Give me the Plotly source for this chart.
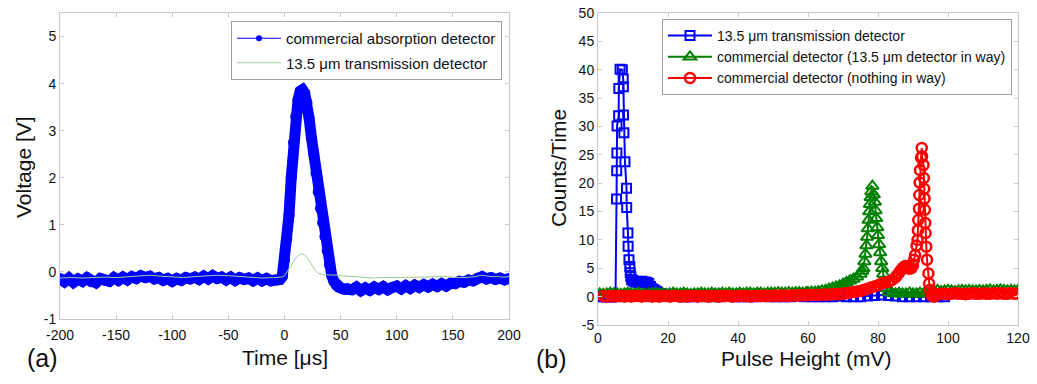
import plotly.graph_objects as go

W, H = 1037, 384
FONT = "Arial, Liberation Sans, sans-serif"

# ---------------- Panel (a): voltage traces ----------------
# blue trace, segment 1: t = -200 .. -8 (step 4 us)
blue_v1 = [-0.14, -0.21, -0.13, -0.22, -0.15, -0.20, -0.12, -0.21, -0.23, -0.14,
           -0.18, -0.20, -0.12, -0.18, -0.11, -0.17, -0.10, -0.14, -0.08, -0.12,
           -0.09, -0.15, -0.12, -0.18, -0.14, -0.20, -0.14, -0.18, -0.12, -0.15,
           -0.11, -0.16, -0.09, -0.15, -0.08, -0.14, -0.11, -0.17, -0.11, -0.18,
           -0.12, -0.16, -0.13, -0.19, -0.13, -0.19, -0.14, -0.19, -0.17]
# segment 2: t = -6 .. 56 (step 2 us), the pulse
blue_v2 = [-0.17, -0.16, -0.10, 0.25, 0.70, 1.20, 2.00, 2.75, 3.30, 3.65,
           3.84, 3.87, 3.80, 3.60, 3.25, 2.85, 2.50, 2.10, 1.70, 1.35,
           1.05, 0.75, 0.45, 0.15, -0.07, -0.20, -0.28, -0.32, -0.34, -0.36,
           -0.37, -0.35]
# segment 3: t = 60 .. 200 (step 4 us)
blue_v3 = [-0.38, -0.32, -0.40, -0.34, -0.39, -0.32, -0.37, -0.31, -0.38, -0.33,
           -0.30, -0.36, -0.29, -0.35, -0.28, -0.33, -0.27, -0.32, -0.26, -0.31,
           -0.25, -0.30, -0.24, -0.25, -0.20, -0.22, -0.17, -0.19, -0.13, -0.10,
           -0.15, -0.12, -0.16, -0.13, -0.17, -0.14]
blue_t = ([-200 + 4 * i for i in range(len(blue_v1))]
          + [-6 + 2 * i for i in range(len(blue_v2))]
          + [60 + 4 * i for i in range(len(blue_v3))])
blue_v = blue_v1 + blue_v2 + blue_v3

# green trace (13.5 um detector)
green_v1 = [-0.13, -0.12, -0.13, -0.12, -0.11, -0.12, -0.10, -0.08, -0.07, -0.09,
            -0.11, -0.12, -0.10, -0.08, -0.07, -0.08, -0.10, -0.12, -0.13, -0.12]
green_v2 = [-0.12, -0.11, -0.08, 0.00, 0.10, 0.20, 0.29, 0.35, 0.38, 0.37,
            0.31, 0.22, 0.12, 0.03, -0.03, -0.05, -0.06, -0.06, -0.06, -0.06,
            -0.07, -0.07, -0.08]
green_v3 = [-0.09, -0.10, -0.11, -0.12, -0.13, -0.13, -0.12, -0.12, -0.11, -0.11,
            -0.11, -0.12, -0.12, -0.11, -0.11, -0.10, -0.10, -0.09, -0.10, -0.11,
            -0.12, -0.12, -0.11, -0.10, -0.07, -0.09, -0.10, -0.10, -0.11, -0.10]
green_t = ([-200 + 10 * i for i in range(len(green_v1))]
           + [-5 + 2.5 * i for i in range(len(green_v2))]
           + [55 + 5 * i for i in range(len(green_v3))])
green_v = green_v1 + green_v2 + green_v3

# tick labels (hyphen minus, as in the original)
a_xticks = [-200, -150, -100, -50, 0, 50, 100, 150, 200]
a_xlabels = ["-200", "-150", "-100", "-50", "0", "50", "100", "150", "200"]
a_yticks = [-1, 0, 1, 2, 3, 4, 5]
a_ylabels = ["-1", "0", "1", "2", "3", "4", "5"]
b_xticks = [0, 20, 40, 60, 80, 100, 120]
b_yticks = [-5, 0, 5, 10, 15, 20, 25, 30, 35, 40, 45, 50]
b_ylabels = ["-5", "0", "5", "10", "15", "20", "25", "30", "35", "40", "45", "50"]

# ---------------- Panel (b): pulse-height histograms ----------------
# 13.5 um transmission detector (blue squares)
sq_x = [0.5, 1.0, 1.5, 2.0, 2.5, 3.0, 3.5, 4.0, 4.5, 5.0,
        5.3, 5.35, 5.4, 5.45, 5.9, 5.95, 6.3, 6.95, 7.2, 7.25,
        7.3, 7.4, 7.7, 8.15, 8.2, 8.55, 8.6, 8.85, 9.1, 9.2,
        9.4, 9.6, 10.0, 10.5, 11.0, 11.5, 12.0, 12.5, 13.0, 13.5,
        14.0, 14.5, 15.0, 15.5, 16.0, 16.5, 17.0, 18.0, 19.0, 20.0,
        22.0, 24.0]
sq_y = [0.1, 0.0, 0.1, 0.0, 0.0, 0.1, 0.0, 0.0, 0.1, 0.0,
        17.2, 22.2, 25.3, 30.1, 31.9, 36.7, 40.1, 40.0, 38.4, 37.0,
        32.0, 28.9, 23.8, 19.1, 15.7, 11.2, 8.9, 6.5, 5.3, 4.2,
        3.5, 3.0, 2.8, 2.6, 2.7, 2.5, 2.6, 2.7, 2.5, 2.6,
        2.5, 2.3, 1.8, 1.4, 1.2, 1.0, 0.8, 0.5, 0.4, 0.3,
        0.1, 0.0]
sq_tail_y = [0.0, 0.0, 0.1, 0.0, 0.0, 0.0, 0.1, 0.0, 0.0, 0.0,
             0.0, 0.1, 0.0, 0.0, 0.0, 0.0, 0.1, 0.0, 0.0, 0.0,
             0.0, 0.0, 0.1, 0.0, 0.0, 0.0, 0.1, 0.2, 0.3, 0.2,
             0.1, 0.0, 0.0, 0.0, 0.0, 0.0, 0.0, 0.0]
sq_x = sq_x + [25 + 2 * i for i in range(len(sq_tail_y))]
sq_y = sq_y + sq_tail_y

# commercial detector, 13.5 um detector in way (green triangles)
tri_base_y = [0.5, 0.4, 0.5, 0.6, 0.5, 0.5, 0.4, 0.5, 0.6, 0.5,
              0.5, 0.6, 0.5, 0.4, 0.5, 0.5, 0.6, 0.5, 0.5, 0.4,
              0.5, 0.6, 0.5, 0.5, 0.6, 0.5, 0.4, 0.5, 0.5, 0.6,
              0.5, 0.5, 0.6, 0.5, 0.5, 0.6, 0.5, 0.6, 0.5, 0.5,
              0.6, 0.5, 0.6, 0.6, 0.5, 0.6, 0.6, 0.5, 0.6, 0.6,
              0.6, 0.7, 0.6, 0.6, 0.7, 0.6, 0.7, 0.7, 0.6, 0.7]
tri_peak_x = [60, 61, 62, 63, 64, 65, 66, 67, 68, 69,
              70, 71, 72, 73, 74, 75, 75.5, 75.8, 76.1, 76.4,
              76.7, 76.9, 77.1, 77.3, 77.5, 77.7, 77.9, 78.1, 78.4, 78.8,
              79.1, 79.3, 79.5, 79.8, 80.0, 80.3, 80.6, 80.9, 81.2, 81.5,
              82.0, 82.5, 83.0, 84, 85, 86, 87, 88, 89, 90,
              91, 92, 93, 94]
tri_peak_y = [0.7, 0.8, 0.8, 0.9, 1.0, 1.1, 1.3, 1.5, 1.7, 1.9,
              2.2, 2.5, 2.8, 3.1, 3.5, 4.0, 4.5, 5.0, 6.2, 7.5,
              9.0, 10.5, 12.0, 13.5, 15.0, 16.3, 17.5, 18.5, 19.5, 18.0,
              16.7, 15.2, 13.8, 12.2, 10.8, 9.2, 7.8, 6.2, 5.0, 4.0,
              2.5, 1.5, 0.8, 0.6, 0.5, 0.6, 0.5, 0.5, 0.6, 0.5,
              0.5, 0.6, 0.5, 0.6]
tri_tail_y = [0.9, 1.0, 1.1, 0.9, 1.0, 1.1, 1.0, 0.9, 1.0, 1.1,
              1.0, 1.1, 1.0, 1.0, 1.1, 1.0, 1.1, 1.2, 1.0, 1.1,
              1.2, 1.1, 1.0, 1.1, 1.0, 1.1]
tri_x = ([0.5 + i for i in range(len(tri_base_y))] + tri_peak_x
         + [95 + i for i in range(len(tri_tail_y))])
tri_y = tri_base_y + tri_peak_y + tri_tail_y

# commercial detector, nothing in way (red circles)
circ_base_y = [0.1, 0.0, 0.1, 0.0, 0.1, 0.1, 0.0, 0.1, 0.0, 0.1,
               0.1, 0.0, 0.1, 0.1, 0.0, 0.1, 0.0, 0.1, 0.1, 0.0,
               0.1, 0.1, 0.0, 0.1, 0.0, 0.1, 0.1, 0.0, 0.1, 0.1,
               0.0, 0.1, 0.1, 0.0, 0.1, 0.1, 0.1, 0.0, 0.1, 0.1,
               0.1, 0.1, 0.0, 0.1, 0.1, 0.1, 0.2, 0.1, 0.1, 0.2,
               0.1, 0.2, 0.2, 0.1, 0.2, 0.2, 0.2, 0.3, 0.2, 0.3,
               0.3, 0.3, 0.3, 0.4, 0.3, 0.4, 0.4, 0.4, 0.5]
circ_peak_x = [70, 71, 72, 73, 74, 75, 76, 77, 78, 79,
               80, 81, 82, 83, 84, 85, 85.5, 86, 86.5, 87,
               87.5, 88, 88.5, 89, 89.5, 90, 90.3, 90.6, 91.0, 91.3,
               91.4, 91.5, 91.7, 91.8, 91.9, 92.0, 92.3, 92.5, 92.6, 93.0,
               93.1, 93.2, 93.3, 93.4, 93.5, 93.6, 93.8, 94.0, 94.4, 94.6,
               94.8, 95.2, 95.6, 96.0, 96.5, 97.0, 98.0]
circ_peak_y = [0.5, 0.6, 0.7, 0.8, 0.9, 1.0, 1.2, 1.4, 1.6, 1.8,
               2.0, 2.3, 2.5, 2.6, 2.9, 3.4, 3.8, 4.2, 4.6, 5.0,
               5.3, 5.4, 5.2, 4.9, 5.0, 5.5, 6.5, 7.3, 9.0, 10.0,
               11.7, 13.5, 15.5, 17.9, 20.1, 22.3, 24.5, 26.2, 24.7, 23.2,
               20.9, 19.0, 17.3, 15.3, 13.0, 11.2, 8.8, 6.5, 4.1, 2.3,
               1.2, 0.3, 0.1, 0.0, 0.2, 0.4, 0.5]
circ_tail_y = [0.5, 0.4, 0.5, 0.6, 0.5, 0.5, 0.4, 0.5, 0.6, 0.5,
               0.5, 0.6, 0.5, 0.5, 0.6, 0.5, 0.6, 0.5, 0.5, 0.6,
               0.5, 0.5]
circ_x = ([1.5 + i for i in range(len(circ_base_y))] + circ_peak_x
          + [99 + i for i in range(len(circ_tail_y))])
circ_y = circ_base_y + circ_peak_y + circ_tail_y

BLUE, GREEN, RED = "#0000ff", "#008000", "#ff0000"

fig = go.Figure()

# panel (a): thick band of dense samples, then the legend-bearing thin trace
fig.add_trace(go.Scatter(x=blue_t, y=blue_v, mode="lines+markers", xaxis="x", yaxis="y",
                         line=dict(color=BLUE, width=11),
                         marker=dict(size=11, color=BLUE), showlegend=False,
                         hoverinfo="skip"))
fig.add_trace(go.Scatter(x=blue_t, y=blue_v, mode="lines+markers", xaxis="x", yaxis="y",
                         name="commercial absorption detector",
                         line=dict(color=BLUE, width=1), marker=dict(size=6, color=BLUE),
                         legend="legend", legendgroup="a1"))
fig.add_trace(go.Scatter(x=green_t, y=green_v, mode="lines", xaxis="x", yaxis="y",
                         name="13.5 μm transmission detector",
                         line=dict(color="#99cc99", width=1),
                         legend="legend", legendgroup="a2"))

# panel (b)
fig.add_trace(go.Scatter(x=sq_x, y=sq_y, mode="lines+markers", xaxis="x2", yaxis="y2",
                         name="13.5 μm transmission detector",
                         line=dict(color=BLUE, width=2),
                         marker=dict(symbol="square-open", size=9, color=BLUE,
                                     line=dict(width=2, color=BLUE)),
                         legend="legend2", legendgroup="b1"))
fig.add_trace(go.Scatter(x=tri_x, y=tri_y, mode="lines+markers", xaxis="x2", yaxis="y2",
                         name="commercial detector (13.5 μm detector in way)",
                         line=dict(color=GREEN, width=2),
                         marker=dict(symbol="triangle-up-open", size=11, color=GREEN,
                                     line=dict(width=2, color=GREEN)),
                         legend="legend2", legendgroup="b2"))
fig.add_trace(go.Scatter(x=circ_x, y=circ_y, mode="lines+markers", xaxis="x2", yaxis="y2",
                         name="commercial detector (nothing in way)",
                         line=dict(color=RED, width=2),
                         marker=dict(symbol="circle-open", size=10, color=RED,
                                     line=dict(width=2.5, color=RED)),
                         legend="legend2", legendgroup="b3"))

axis_common = dict(showgrid=False, zeroline=False, showline=True, linecolor="#c8c8c8",
                   linewidth=1, mirror="ticks", ticks="inside", ticklen=4,
                   tickcolor="#c8c8c8", automargin=False,
                   tickfont=dict(size=14, color="#111", family=FONT))


def px(x):
    return x / W


def py(y):
    return 1 - y / H


fig.update_layout(
    template="none",
    width=W, height=H, margin=dict(l=0, r=0, t=0, b=0, pad=0),
    paper_bgcolor="white", plot_bgcolor="white",
    font=dict(family=FONT, color="#111"),
    xaxis=dict(domain=[px(60), px(509)], range=[-200, 200], anchor="y",
               tickmode="array", tickvals=a_xticks, ticktext=a_xlabels,
               ticklabelstandoff=3, **axis_common),
    yaxis=dict(domain=[py(319), py(13)], range=[-1, 5.5], anchor="x",
               tickmode="array", tickvals=a_yticks, ticktext=a_ylabels, **axis_common),
    xaxis2=dict(domain=[px(598), px(1018)], range=[0, 120], anchor="y2",
                tickmode="array", tickvals=b_xticks, **axis_common),
    yaxis2=dict(domain=[py(325), py(13)], range=[-5, 50], anchor="x2",
                tickmode="array", tickvals=b_yticks, ticktext=b_ylabels, **axis_common),
    legend=dict(x=px(502), y=py(21), xanchor="right", yanchor="top",
                bgcolor="white", bordercolor="#a0a0a0", borderwidth=1,
                font=dict(size=15, family=FONT, color="#111"),
                tracegroupgap=2, itemwidth=44),
    legend2=dict(x=px(1012), y=py(19), xanchor="right", yanchor="top",
                 bgcolor="white", bordercolor="#a0a0a0", borderwidth=1,
                 font=dict(size=14, family=FONT, color="#111"),
                 tracegroupgap=0, itemwidth=44),
    annotations=[
        dict(text="Time [μs]", x=px(285), y=py(357), xref="paper", yref="paper",
             showarrow=False, font=dict(size=21), xanchor="center", yanchor="middle"),
        dict(text="Voltage [V]", x=px(24), y=py(167), xref="paper", yref="paper",
             showarrow=False, font=dict(size=21), textangle=-90,
             xanchor="center", yanchor="middle"),
        dict(text="Pulse Height (mV)", x=px(806), y=py(358), xref="paper", yref="paper",
             showarrow=False, font=dict(size=21), xanchor="center", yanchor="middle"),
        dict(text="Counts/Time", x=px(558), y=py(168), xref="paper", yref="paper",
             showarrow=False, font=dict(size=21), textangle=-90,
             xanchor="center", yanchor="middle"),
        dict(text="(a)", x=px(42), y=py(358), xref="paper", yref="paper",
             showarrow=False, font=dict(size=25), xanchor="center", yanchor="middle"),
        dict(text="(b)", x=px(551), y=py(359), xref="paper", yref="paper",
             showarrow=False, font=dict(size=25), xanchor="center", yanchor="middle"),
    ],
)

fig.write_html("out.html", post_script="document.body.style.margin='0';")
